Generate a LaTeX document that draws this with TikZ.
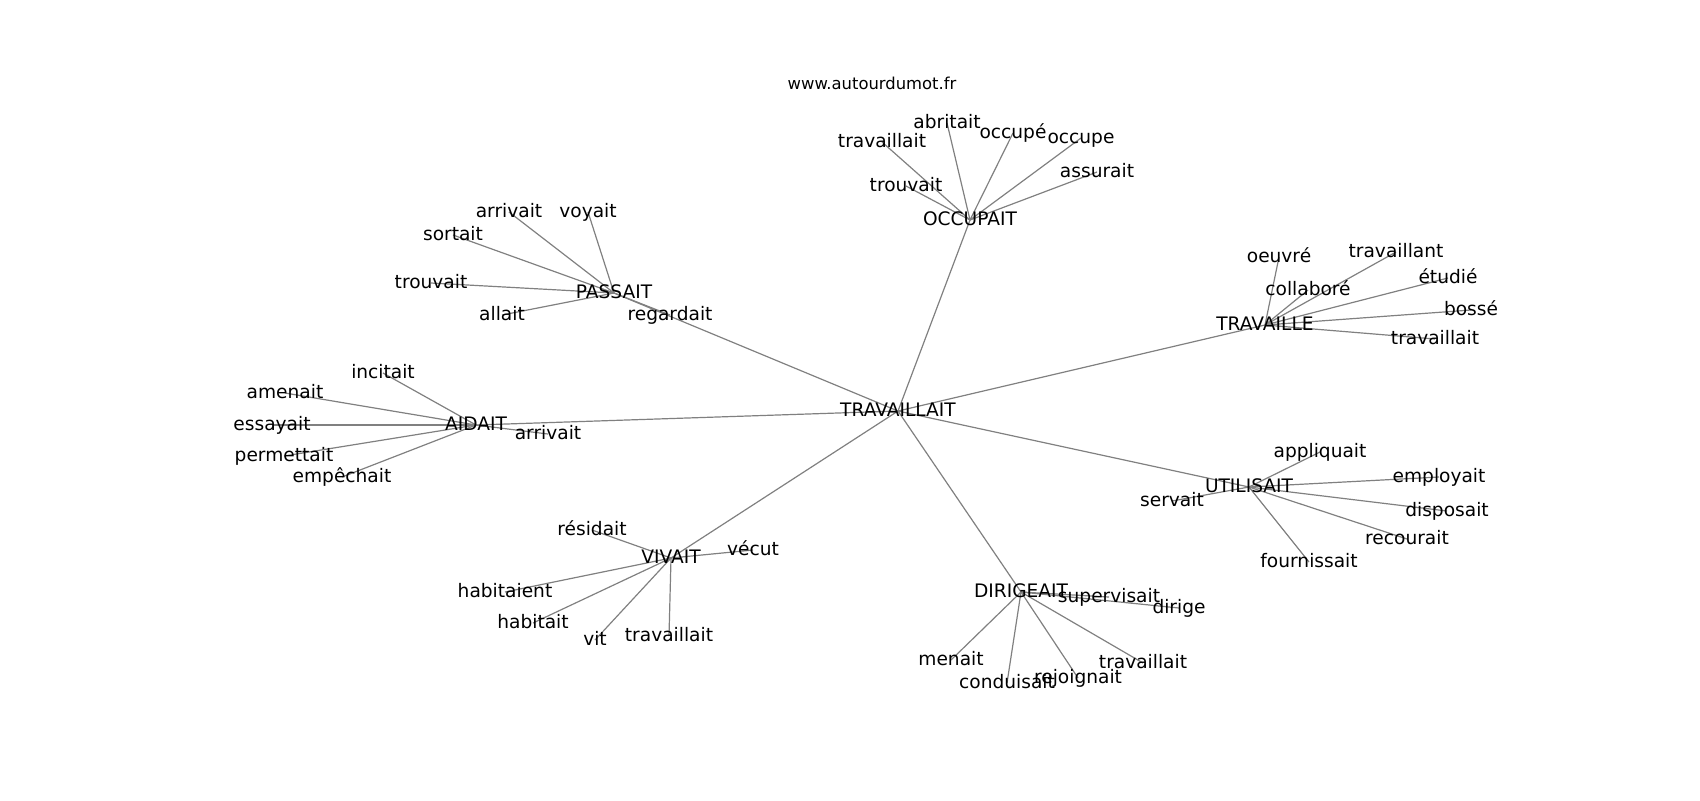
\documentclass[tikz,border=0pt]{standalone}
\usepackage{fontspec}
\setmainfont{DejaVu Sans}
\usetikzlibrary{backgrounds}

\def\wordfont{\fontsize{9.3pt}{11pt}\selectfont}
\def\sitefont{\fontsize{8.2pt}{10pt}\selectfont}

\begin{document}
\begin{tikzpicture}[x=0.5pt, y=-0.5pt,
  word/.style={inner sep=0pt, text height=0.76em, text depth=0.24em, font=\wordfont},
  link/.style={draw=black!50, line width=0.6pt}]
\useasboundingbox (0,0) rectangle (1700,800);
\node[font=\sitefont] (site) at (872,83) {www.autourdumot.fr};

% centre and hubs
\node[word] (trav) at (898,411) {TRAVAILLAIT};
\node[word] (occupait) at (970,220) {OCCUPAIT};
\node[word] (passait) at (614,293) {PASSAIT};
\node[word] (aidait) at (476,425) {AIDAIT};
\node[word] (travaille) at (1265,325) {TRAVAILLE};
\node[word] (utilisait) at (1249,487) {UTILISAIT};
\node[word] (dirigeait) at (1021,592) {DIRIGEAIT};
\node[word] (vivait) at (671,558) {VIVAIT};

% OCCUPAIT
\node[word] (occ-travaillait) at (882,142) {travaillait};
\node[word] (occ-abritait) at (947,123) {abritait};
\node[word] (occ-occupe1) at (1013,133) {occupé};
\node[word] (occ-occupe2) at (1081,138) {occupe};
\node[word] (occ-assurait) at (1097,172) {assurait};
\node[word] (occ-trouvait) at (906,186) {trouvait};

% PASSAIT
\node[word] (pas-arrivait) at (509,212) {arrivait};
\node[word] (pas-voyait) at (588,212) {voyait};
\node[word] (pas-sortait) at (453,235) {sortait};
\node[word] (pas-trouvait) at (431,283) {trouvait};
\node[word] (pas-allait) at (502,315) {allait};
\node[word] (pas-regardait) at (670,315) {regardait};

% AIDAIT
\node[word] (aid-incitait) at (383,373) {incitait};
\node[word] (aid-amenait) at (285,393) {amenait};
\node[word] (aid-essayait) at (272,425) {essayait};
\node[word] (aid-permettait) at (284,456) {permettait};
\node[word] (aid-empechait) at (342,477) {empêchait};
\node[word] (aid-arrivait) at (548,434) {arrivait};

% TRAVAILLE
\node[word] (tra-oeuvre) at (1279,257) {oeuvré};
\node[word] (tra-collabore) at (1308,290) {collaboré};
\node[word] (tra-travaillant) at (1396,252) {travaillant};
\node[word] (tra-etudie) at (1448,278) {étudié};
\node[word] (tra-bosse) at (1471,310) {bossé};
\node[word] (tra-travaillait) at (1435,339) {travaillait};

% UTILISAIT
\node[word] (uti-appliquait) at (1320,452) {appliquait};
\node[word] (uti-employait) at (1439,477) {employait};
\node[word] (uti-servait) at (1172,501) {servait};
\node[word] (uti-disposait) at (1447,511) {disposait};
\node[word] (uti-recourait) at (1407,539) {recourait};
\node[word] (uti-fournissait) at (1309,562) {fournissait};

% DIRIGEAIT
\node[word] (dir-supervisait) at (1109,597) {supervisait};
\node[word] (dir-dirige) at (1179,608) {dirige};
\node[word] (dir-menait) at (951,660) {menait};
\node[word] (dir-conduisait) at (1007,683) {conduisait};
\node[word] (dir-rejoignait) at (1078,678) {rejoignait};
\node[word] (dir-travaillait) at (1143,663) {travaillait};

% VIVAIT
\node[word] (viv-residait) at (592,530) {résidait};
\node[word] (viv-vecut) at (753,550) {vécut};
\node[word] (viv-habitaient) at (505,592) {habitaient};
\node[word] (viv-habitait) at (533,623) {habitait};
\node[word] (viv-vit) at (595,640) {vit};
\node[word] (viv-travaillait) at (669,636) {travaillait};

\begin{pgfonlayer}{background}
\draw[link] (trav.center) -- (occupait.center);
\draw[link] (trav.center) -- (passait.center);
\draw[link] (trav.center) -- (aidait.center);
\draw[link] (trav.center) -- (travaille.center);
\draw[link] (trav.center) -- (utilisait.center);
\draw[link] (trav.center) -- (dirigeait.center);
\draw[link] (trav.center) -- (vivait.center);

\draw[link] (occupait.center) -- (occ-travaillait.center);
\draw[link] (occupait.center) -- (occ-abritait.center);
\draw[link] (occupait.center) -- (occ-occupe1.center);
\draw[link] (occupait.center) -- (occ-occupe2.center);
\draw[link] (occupait.center) -- (occ-assurait.center);
\draw[link] (occupait.center) -- (occ-trouvait.center);

\draw[link] (passait.center) -- (pas-arrivait.center);
\draw[link] (passait.center) -- (pas-voyait.center);
\draw[link] (passait.center) -- (pas-sortait.center);
\draw[link] (passait.center) -- (pas-trouvait.center);
\draw[link] (passait.center) -- (pas-allait.center);
\draw[link] (passait.center) -- (pas-regardait.center);

\draw[link] (aidait.center) -- (aid-incitait.center);
\draw[link] (aidait.center) -- (aid-amenait.center);
\draw[link] (aidait.center) -- (aid-essayait.center);
\draw[link] (aidait.center) -- (aid-permettait.center);
\draw[link] (aidait.center) -- (aid-empechait.center);
\draw[link] (aidait.center) -- (aid-arrivait.center);

\draw[link] (travaille.center) -- (tra-oeuvre.center);
\draw[link] (travaille.center) -- (tra-collabore.center);
\draw[link] (travaille.center) -- (tra-travaillant.center);
\draw[link] (travaille.center) -- (tra-etudie.center);
\draw[link] (travaille.center) -- (tra-bosse.center);
\draw[link] (travaille.center) -- (tra-travaillait.center);

\draw[link] (utilisait.center) -- (uti-appliquait.center);
\draw[link] (utilisait.center) -- (uti-employait.center);
\draw[link] (utilisait.center) -- (uti-servait.center);
\draw[link] (utilisait.center) -- (uti-disposait.center);
\draw[link] (utilisait.center) -- (uti-recourait.center);
\draw[link] (utilisait.center) -- (uti-fournissait.center);

\draw[link] (dirigeait.center) -- (dir-supervisait.center);
\draw[link] (dirigeait.center) -- (dir-dirige.center);
\draw[link] (dirigeait.center) -- (dir-menait.center);
\draw[link] (dirigeait.center) -- (dir-conduisait.center);
\draw[link] (dirigeait.center) -- (dir-rejoignait.center);
\draw[link] (dirigeait.center) -- (dir-travaillait.center);

\draw[link] (vivait.center) -- (viv-residait.center);
\draw[link] (vivait.center) -- (viv-vecut.center);
\draw[link] (vivait.center) -- (viv-habitaient.center);
\draw[link] (vivait.center) -- (viv-habitait.center);
\draw[link] (vivait.center) -- (viv-vit.center);
\draw[link] (vivait.center) -- (viv-travaillait.center);
\end{pgfonlayer}
\end{tikzpicture}
\end{document}
